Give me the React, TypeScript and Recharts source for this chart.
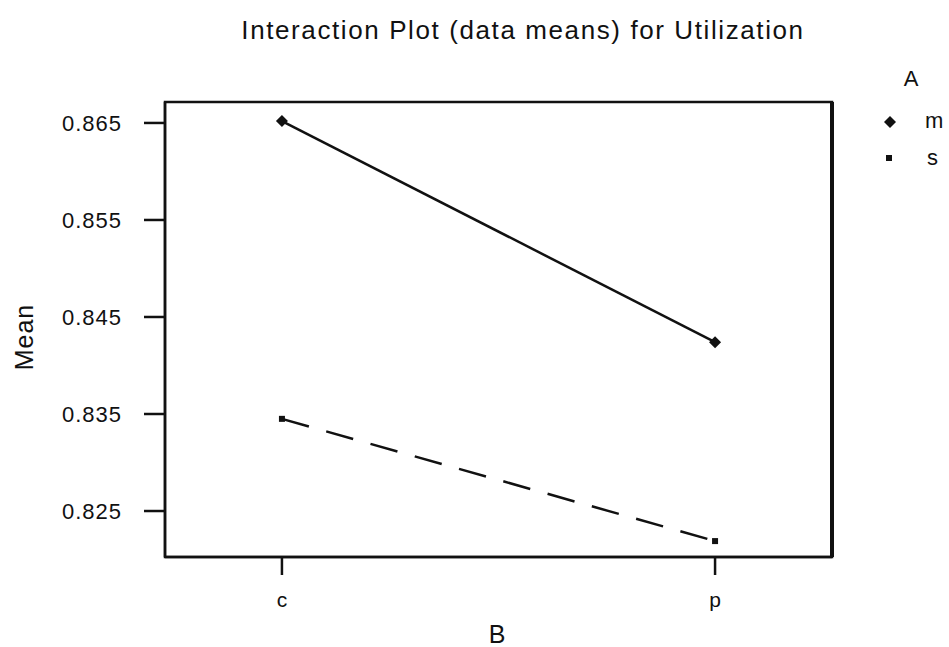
import {
  LineChart,
  Line,
  XAxis,
  YAxis,
  ReferenceArea,
  ReferenceLine,
} from "recharts";

// factor B levels and the means for each level of A
const levelsB = ["c", "p"];
const meansM = [0.8652, 0.8424];
const meansS = [0.8345, 0.8219];
const yTicks = [0.825, 0.835, 0.845, 0.855, 0.865];

const data = levelsB.map((b, i) => ({ pos: i + 1, b, m: meansM[i], s: meansS[i] }));

const X_DOMAIN: [number, number] = [0.73, 2.27];
const Y_DOMAIN: [number, number] = [0.82026, 0.86716];
const FONT = '"Liberation Sans", Arial, sans-serif';
const INK = "#111";

const Diamond = (props: any) => {
  const { cx, cy } = props;
  if (cx == null || cy == null) return null;
  const r = 6;
  return <path d={`M${cx},${cy - r}L${cx + r},${cy}L${cx},${cy + r}L${cx - r},${cy}Z`} fill={INK} />;
};

const Square = (props: any) => {
  const { cx, cy } = props;
  if (cx == null || cy == null) return null;
  return <rect x={cx - 3} y={cy - 3} width={6} height={6} fill={INK} />;
};

// key for factor A, sits to the right of the plot frame
const LegendBox = () => (
  <svg
    width={79}
    height={130}
    style={{ position: "absolute", left: 870, top: 50, fontFamily: FONT, overflow: "hidden" }}
  >
    <text x={41} y={36} fontSize={22} textAnchor="middle" fill={INK}>A</text>
    <path d="M20,66L26,72L20,78L14,72Z" fill={INK} />
    <text x={55} y={78} fontSize={22} fill={INK}>m</text>
    <rect x={16} y={105} width={6} height={6} fill={INK} />
    <text x={57} y={115} fontSize={22} fill={INK}>s</text>
  </svg>
);

const App = () => {
  return (
    <div
      style={{
        position: "fixed",
        left: 0,
        top: 0,
        width: 949,
        height: 647,
        overflow: "hidden",
        background: "#fff",
        fontFamily: FONT,
      }}
    >
      <div
        style={{
          position: "absolute",
          left: 0,
          width: 1046,
          top: 15,
          textAlign: "center",
          fontSize: 26,
          letterSpacing: 1.6,
          color: INK,
        }}
      >
        Interaction Plot (data means) for Utilization
      </div>
      <div
        style={{
          position: "absolute",
          left: 24,
          top: 337,
          transform: "translate(-50%, -50%) rotate(-90deg)",
          fontSize: 25,
          letterSpacing: 1,
          color: INK,
        }}
      >
        Mean
      </div>
      <div
        style={{
          position: "absolute",
          left: 487,
          width: 20,
          top: 624,
          height: 20,
          lineHeight: "20px",
          textAlign: "center",
          fontSize: 25,
          color: INK,
        }}
      >
        B
      </div>
      <LegendBox />
      <div style={{ position: "absolute", left: 0, top: 0 }}>
        <LineChart
          width={949}
          height={647}
          data={data}
          margin={{ top: 102, right: 117, left: 85, bottom: 50 }}
        >
          <XAxis
            dataKey="pos"
            type="number"
            domain={X_DOMAIN}
            ticks={[1, 2]}
            tickFormatter={(v: number) => levelsB[v - 1]}
            axisLine={{ stroke: INK, strokeWidth: 2.5 }}
            tickLine={{ stroke: INK, strokeWidth: 2.5 }}
            tickSize={18}
            tickMargin={17}
            height={40}
            tick={{ fill: INK, fontSize: 21, fontFamily: FONT }}
          />
          <YAxis
            type="number"
            domain={Y_DOMAIN}
            ticks={yTicks}
            tickFormatter={(v: number) => v.toFixed(3)}
            axisLine={{ stroke: INK, strokeWidth: 2.5 }}
            tickLine={{ stroke: INK, strokeWidth: 2.5 }}
            tickSize={21}
            tickMargin={22}
            width={80}
            tick={{ fill: INK, fontSize: 22, fontFamily: FONT, letterSpacing: 1 }}
          />
          {/* plot frame: top and right edges */}
          <ReferenceArea
            x1={X_DOMAIN[0]}
            x2={X_DOMAIN[1]}
            y1={Y_DOMAIN[0]}
            y2={Y_DOMAIN[1]}
            fill="none"
            fillOpacity={0}
            stroke={INK}
            strokeWidth={2.5}
          />
          <ReferenceLine x={X_DOMAIN[1]} stroke={INK} strokeWidth={4} />
          <Line
            dataKey="m"
            stroke={INK}
            strokeWidth={2.5}
            dot={<Diamond />}
            activeDot={false}
            isAnimationActive={false}
          />
          <Line
            dataKey="s"
            stroke={INK}
            strokeWidth={2.5}
            strokeDasharray="28 18"
            dot={<Square />}
            activeDot={false}
            isAnimationActive={false}
          />
        </LineChart>
      </div>
    </div>
  );
};

export default App;
